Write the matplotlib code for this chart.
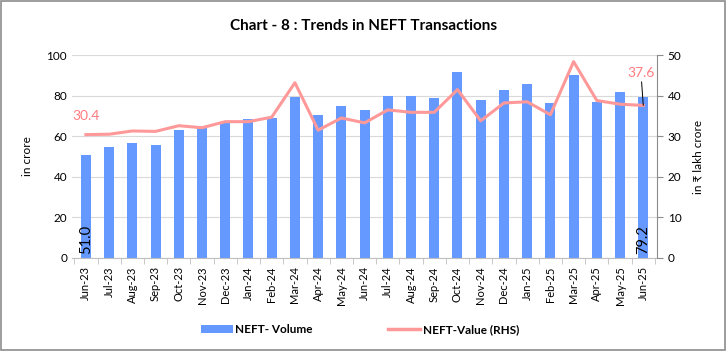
import matplotlib.pyplot as plt
from matplotlib.patches import Patch, Rectangle
from matplotlib.lines import Line2D

months = ["Jun-23", "Jul-23", "Aug-23", "Sep-23", "Oct-23", "Nov-23", "Dec-23",
          "Jan-24", "Feb-24", "Mar-24", "Apr-24", "May-24", "Jun-24", "Jul-24",
          "Aug-24", "Sep-24", "Oct-24", "Nov-24", "Dec-24", "Jan-25", "Feb-25",
          "Mar-25", "Apr-25", "May-25", "Jun-25"]
volume = [51.0, 54.7, 56.6, 55.7, 63.0, 64.0, 67.0, 68.6, 69.0, 79.3, 70.4, 74.9,
          73.0, 80.0, 80.0, 79.0, 91.6, 78.0, 82.9, 85.7, 76.3, 90.1, 76.9, 82.0, 79.2]
value = [30.4, 30.5, 31.3, 31.2, 32.6, 32.1, 33.6, 33.6, 34.7, 43.2, 31.5, 34.5,
         33.3, 36.5, 35.9, 35.9, 41.5, 33.8, 38.2, 38.5, 35.3, 48.4, 38.8, 37.9, 37.6]

plt.rcParams['font.family'] = ['Lato', 'DejaVu Sans']

bar_color = '#6699FF'
line_color = '#FF9999'
label_red = '#FF7C80'

fig = plt.figure(figsize=(7.27, 3.51), dpi=100)
fig.patches.append(Rectangle((0.002, 0.004), 0.995, 0.993, transform=fig.transFigure,
                             fill=False, edgecolor='#8c8c8c', linewidth=1.2))

ax = fig.add_axes([0.099, 0.265, 0.805, 0.578])
x = list(range(len(months)))
ax.bar(x, volume, width=0.43, color=bar_color, zorder=2)
ax.set_ylim(0, 100)
ax.set_yticks(range(0, 101, 20))
ax.set_xlim(-0.6, len(months) - 0.4)
ax.set_xticks(x)
ax.set_xticklabels(months, rotation=90, fontsize=8)
ax.tick_params(axis='x', length=0, pad=6)
ax.set_xticks([i + 0.5 for i in range(-1, len(months))], minor=True)
ax.tick_params(axis='x', which='minor', length=4, color='#bfbfbf')
ax.tick_params(axis='y', length=0, labelsize=8.5)
ax.grid(axis='y', color='#d9d9d9', linewidth=0.8, zorder=0)
for s in ['top', 'right', 'left']:
    ax.spines[s].set_visible(False)
ax.spines['bottom'].set_color('#bfbfbf')
ax.set_ylabel("in crore", fontsize=8.5, labelpad=10)

ax2 = ax.twinx()
ax2.plot(x, value, color=line_color, linewidth=2.2, zorder=3)
ax2.set_ylim(0, 50)
ax2.set_yticks(range(0, 51, 10))
ax2.tick_params(axis='y', labelsize=8.5, length=4, color='#8c8c8c')
for s in ['top', 'left', 'bottom']:
    ax2.spines[s].set_visible(False)
ax2.spines['right'].set_color('#8c8c8c')
ax2.set_ylabel("in ₹ lakh crore", fontsize=8.5, labelpad=8)

# data labels
ax.text(x[0], 2, f"{volume[0]:.1f}", rotation=90, ha='center', va='bottom',
        fontsize=10.5, color='black', zorder=4)
ax.text(x[-1], 2, f"{volume[-1]:.1f}", rotation=90, ha='center', va='bottom',
        fontsize=10.5, color='black', zorder=4)
ax2.text(x[0], value[0] + 3.2, f"{value[0]:.1f}", ha='center', va='bottom',
         fontsize=10, color=label_red, zorder=4)
ax2.annotate(f"{value[-1]:.1f}", xy=(x[-1], value[-1]), xytext=(x[-1] - 0.1, value[-1] + 6.5),
             ha='center', va='bottom', fontsize=10, color=label_red,
             arrowprops=dict(arrowstyle='-', color='black', linewidth=0.7,
                             shrinkA=0, shrinkB=0))

fig.text(0.5, 0.925, "Chart - 8 : Trends in NEFT Transactions", ha='center', va='center',
         fontsize=11, fontweight='bold')

handles = [Patch(facecolor=bar_color), Line2D([0], [0], color=line_color, linewidth=2.5)]
fig.legend(handles, ["NEFT- Volume", "NEFT-Value (RHS)"], loc='center',
           bbox_to_anchor=(0.495, 0.06), ncol=2, frameon=False,
           columnspacing=6.4, handlelength=2.7, handletextpad=0.2,
           prop={'weight': 'bold', 'size': 8.5})

plt.savefig("out.png", dpi=100)
